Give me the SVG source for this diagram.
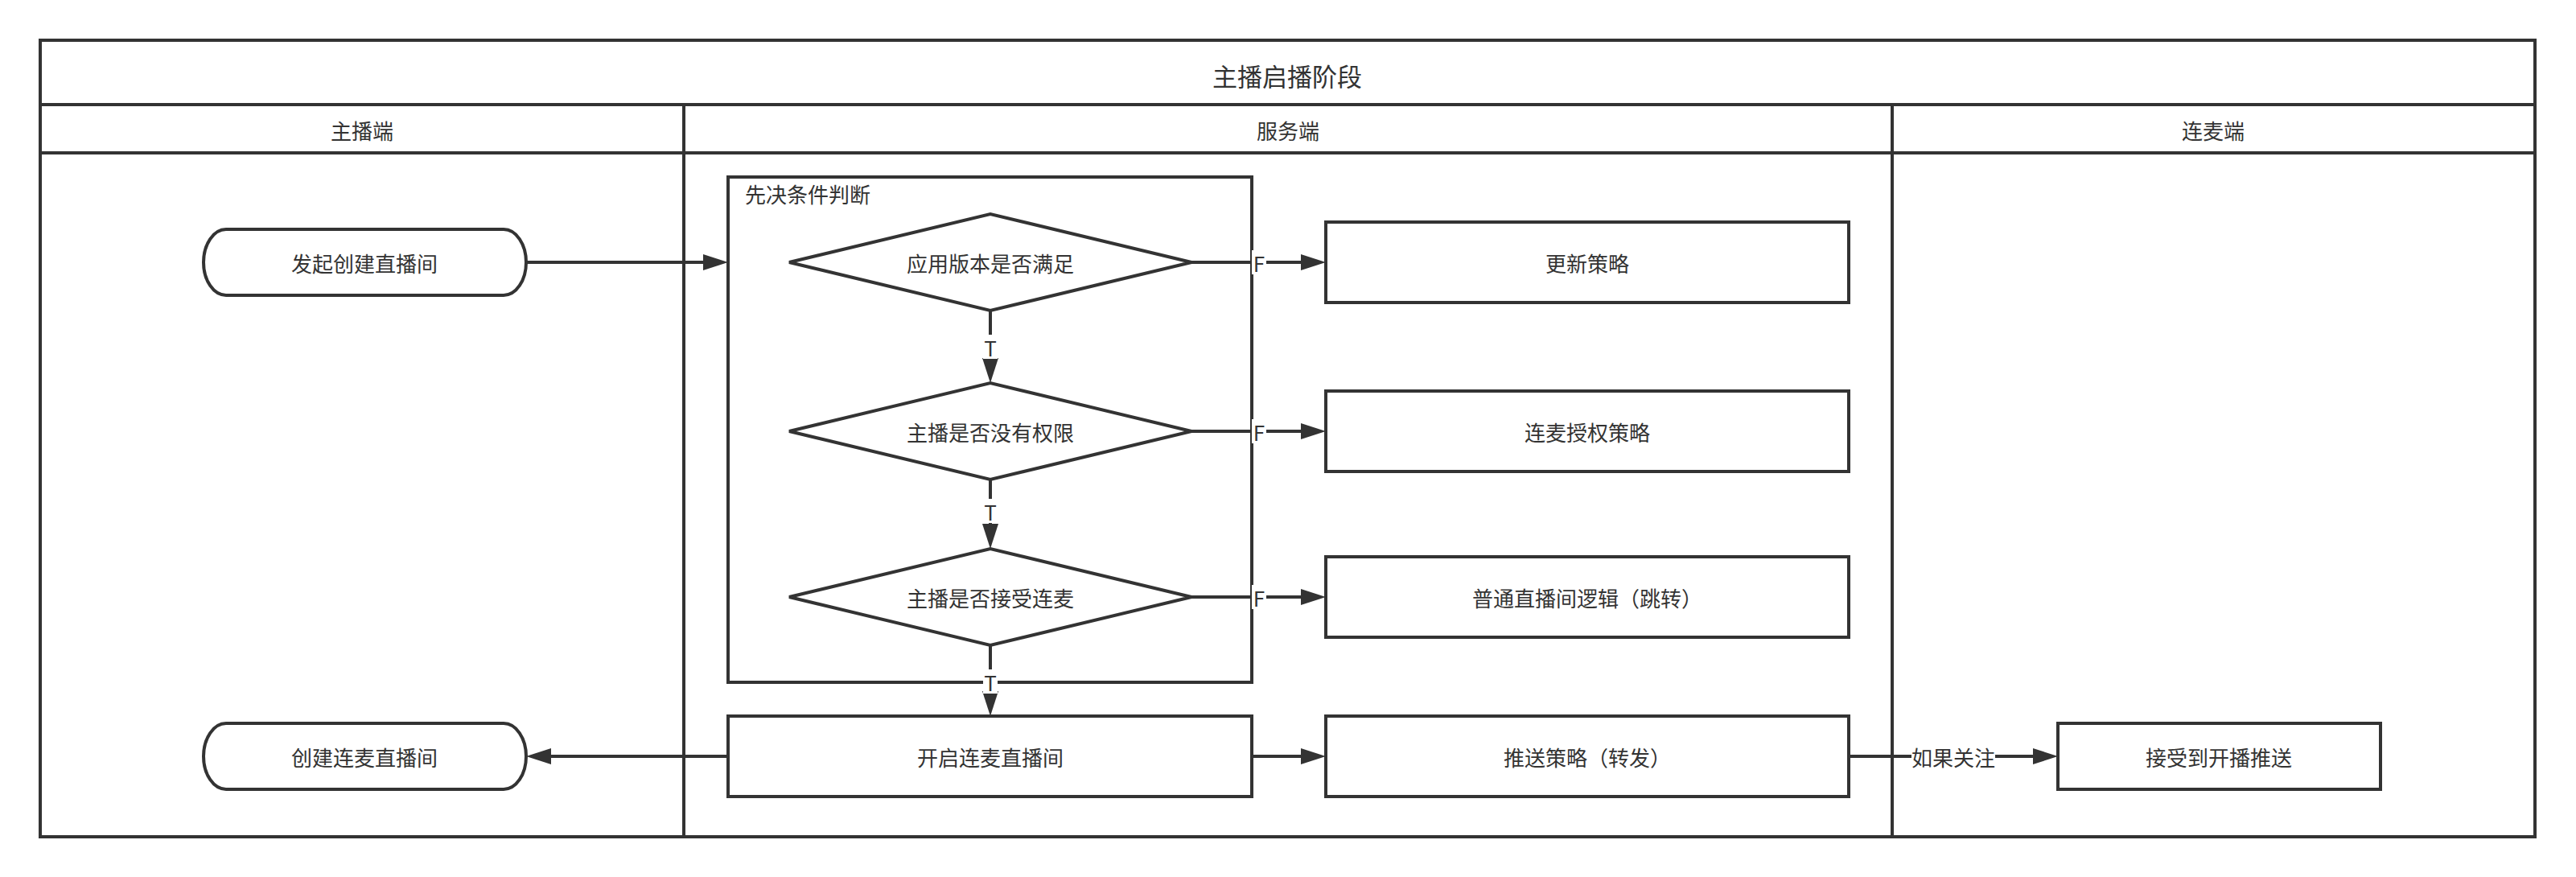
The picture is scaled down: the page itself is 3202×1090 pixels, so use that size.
<svg xmlns="http://www.w3.org/2000/svg" width="3202" height="1090" viewBox="0 0 3202 1090">
<style>
text{font-family:"Noto Sans CJK SC","Noto Sans",sans-serif;fill:#333333;font-size:26px;text-anchor:middle;dominant-baseline:central}
.shape{fill:#ffffff;stroke:#333333;stroke-width:4}
.lane{fill:none;stroke:#333333;stroke-width:4}
.edge{fill:none;stroke:#333333;stroke-width:4}
.lbg{fill:#ffffff;stroke:none}
.title{font-size:31px}
</style>
<defs>
<marker id="arrow" markerUnits="userSpaceOnUse" markerWidth="31" markerHeight="20" refX="21" refY="10" orient="auto" viewBox="0 0 31 20">
<path d="M0,0 L31,10 L0,20 Z" fill="#333333"/>
</marker>
</defs>
<rect width="3202" height="1090" fill="#ffffff"/>
<g id="pool">
<rect class="lane" x="50" y="50" width="3101" height="990"/>
<line class="lane" x1="50" y1="130" x2="3151" y2="130"/>
<line class="lane" x1="50" y1="190" x2="3151" y2="190"/>
<line class="lane" x1="850" y1="130" x2="850" y2="1040"/>
<line class="lane" x1="2352" y1="130" x2="2352" y2="1040"/>
<text class="title" x="1600" y="93">主播启播阶段</text>
</g>
<g id="lane-host"><text x="450" y="161">主播端</text></g>
<g id="lane-server"><text x="1601" y="161">服务端</text></g>
<g id="lane-guest"><text x="2751" y="161">连麦端</text></g>
<g id="group-precondition">
<rect class="shape" x="905" y="220" width="651" height="628"/>
<text x="926" y="240" style="text-anchor:start">先决条件判断</text>
</g>
<g id="start">
<rect class="shape" x="253" y="285" width="401" height="82" rx="28" ry="41"/>
<text x="453" y="326">发起创建直播间</text>
</g>
<g id="end">
<rect class="shape" x="253" y="899" width="401" height="82" rx="28" ry="41"/>
<text x="453" y="940">创建连麦直播间</text>
</g>
<g id="d1">
<polygon class="shape" points="981,326 1231,266 1481,326 1231,386"/>
<text x="1231" y="326">应用版本是否满足</text>
</g>
<g id="d2">
<polygon class="shape" points="981,536 1231,476 1481,536 1231,596"/>
<text x="1231" y="536">主播是否没有权限</text>
</g>
<g id="d3">
<polygon class="shape" points="981,742 1231,682 1481,742 1231,802"/>
<text x="1231" y="742">主播是否接受连麦</text>
</g>
<g id="r1">
<rect class="shape" x="1648" y="276" width="650" height="100"/>
<text x="1973" y="326">更新策略</text>
</g>
<g id="r2">
<rect class="shape" x="1648" y="486" width="650" height="100"/>
<text x="1973" y="536">连麦授权策略</text>
</g>
<g id="r3">
<rect class="shape" x="1648" y="692" width="650" height="100"/>
<text x="1973" y="742">普通直播间逻辑（跳转）</text>
</g>
<g id="open">
<rect class="shape" x="905" y="890" width="651" height="100"/>
<text x="1231" y="940">开启连麦直播间</text>
</g>
<g id="push">
<rect class="shape" x="1648" y="890" width="650" height="100"/>
<text x="1973" y="940">推送策略（转发）</text>
</g>
<g id="receive">
<rect class="shape" x="2558" y="899" width="401" height="82"/>
<text x="2758" y="940">接受到开播推送</text>
</g>
<g id="connectors">
<path class="edge" d="M654,326 L895,326" marker-end="url(#arrow)"/>
<path class="edge" d="M1481,326 L1638,326" marker-end="url(#arrow)"/>
<path class="edge" d="M1481,536 L1638,536" marker-end="url(#arrow)"/>
<path class="edge" d="M1481,742 L1638,742" marker-end="url(#arrow)"/>
<path class="edge" d="M1231,386 L1231,466" marker-end="url(#arrow)"/>
<path class="edge" d="M1231,596 L1231,672" marker-end="url(#arrow)"/>
<path class="edge" d="M1231,802 L1231,880" marker-end="url(#arrow)"/>
<path class="edge" d="M905,940 L664,940" marker-end="url(#arrow)"/>
<path class="edge" d="M1556,940 L1638,940" marker-end="url(#arrow)"/>
<path class="edge" d="M2298,940 L2548,940" marker-end="url(#arrow)"/>
<rect class="lbg" x="1556" y="311" width="18" height="30"/>
<text x="1565" y="326">F</text>
<rect class="lbg" x="1556" y="521" width="18" height="30"/>
<text x="1565" y="536">F</text>
<rect class="lbg" x="1556" y="727" width="18" height="30"/>
<text x="1565" y="742">F</text>
<rect class="lbg" x="1222" y="416" width="18" height="30"/>
<text x="1231" y="431">T</text>
<rect class="lbg" x="1222" y="620" width="18" height="30"/>
<text x="1231" y="635">T</text>
<rect class="lbg" x="1222" y="832" width="18" height="30"/>
<text x="1231" y="847">T</text>
<rect class="lbg" x="2376" y="925" width="104" height="30"/>
<text x="2428" y="940">如果关注</text>
</g>
</svg>
